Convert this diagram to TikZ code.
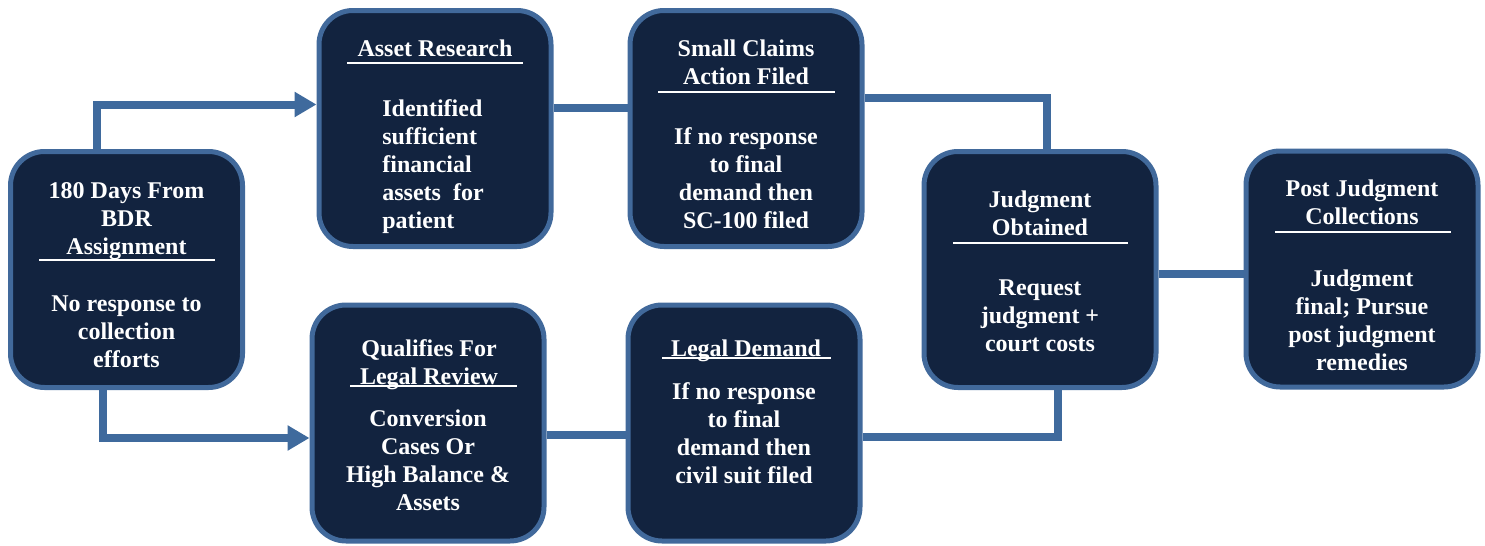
\documentclass[tikz,border=0pt]{standalone}
\usepackage{fontspec}
\setmainfont{Liberation Serif}
\usetikzlibrary{arrows.meta}

\definecolor{cardfill}{HTML}{12233F}
\definecolor{cardline}{HTML}{41699B}
\definecolor{flowline}{HTML}{3F6A9D}

\begin{document}
\begin{tikzpicture}[x=0.5pt, y=-0.5pt, line cap=butt, line join=miter,
  card/.style={draw=cardline, fill=cardfill, line width=2.5pt, rounded corners=17pt,
    minimum width=116pt, minimum height=118pt, inner sep=0pt},
  cardtext/.style={text=white, font=\fontsize{12}{14}\selectfont\bfseries,
    align=center, anchor=north, inner sep=0pt},
  uline/.style={draw=white, line width=1pt},
  flow/.style={draw=flowline, line width=4pt},
  >={Triangle[length=11pt, width=12pt]}]
			\useasboundingbox (0,0) rectangle (1485,546);
			% boxes
			\node[card] (days) at (126.5,269.5) {};
			\node[card] (asset) at (435,128.5) {};
			\node[card] (claims) at (746,128.5) {};
			\node[card] (review) at (428,423) {};
			\node[card] (demand) at (744,423) {};
			\node[card] (judg) at (1040,269.5) {};
			\node[card] (post) at (1362,269) {};
			% connectors
			\draw[flow, ->] ([xshift=-14.75pt]days.north) |- ([yshift=12pt]asset.west);
			\draw[flow, ->] ([xshift=-11.75pt]days.south) |- ([yshift=-7.5pt]review.west);
			\draw[flow] ([yshift=10.5pt]asset.east) -- ([yshift=10.5pt]asset.east -| claims.west);
			\draw[flow] ([yshift=15.5pt]claims.east) -| ([xshift=3.5pt]judg.north);
			\draw[flow] ([yshift=-6pt]review.east) -- ([yshift=-6pt]review.east -| demand.west);
			\draw[flow] ([yshift=-7pt]demand.east) -| ([xshift=9pt]judg.south);
			\draw[flow] ([yshift=-2pt]judg.east) -- ([yshift=-2pt]judg.east -| post.west);
			% texts
			\node[cardtext] (daysT) at (126.5,182) {180 Days From\\BDR\\Assignment};
			\draw[uline] (39,260) -- (215,260);
			\node[cardtext] (daysB) at (126.5,295) {No response to\\collection\\efforts};
			\node[cardtext] (assetT) at (435,39) {Asset Research};
			\draw[uline] (347,63) -- (523,63);
			\node[cardtext, anchor=north west, align=left] (assetB) at (382,99) {Identified\\sufficient\\financial\\assets~ for\\patient};
			\node[cardtext] (claimsT) at (746,39) {Small Claims\\Action Filed};
			\draw[uline] (658,92) -- (835,92);
			\node[cardtext] (claimsB) at (746,127) {If no response\\to final\\demand then\\SC-100 filed};
			\node[cardtext] (reviewT) at (429,339) {Qualifies For\\Legal Review};
			\draw[uline] (350,386) -- (517,386);
			\node[cardtext] (reviewB) at (428,409) {Conversion\\Cases Or\\High Balance \&\\Assets};
			\node[cardtext] (demandT) at (746,339) {Legal Demand};
			\draw[uline] (662,358) -- (831,358);
			\node[cardtext] (demandB) at (744,382) {If no response\\to final\\demand then\\civil suit filed};
			\node[cardtext] (judgT) at (1040,190) {Judgment\\Obtained};
			\draw[uline] (953,243) -- (1128,243);
			\node[cardtext] (judgB) at (1040,279) {Request\\judgment +\\court costs};
			\node[cardtext] (postT) at (1362,179) {Post Judgment\\Collections};
			\draw[uline] (1275,232) -- (1451,232);
			\node[cardtext] (postB) at (1362,269) {Judgment\\final; Pursue\\post judgment\\remedies};
		\end{tikzpicture}
\end{document}
